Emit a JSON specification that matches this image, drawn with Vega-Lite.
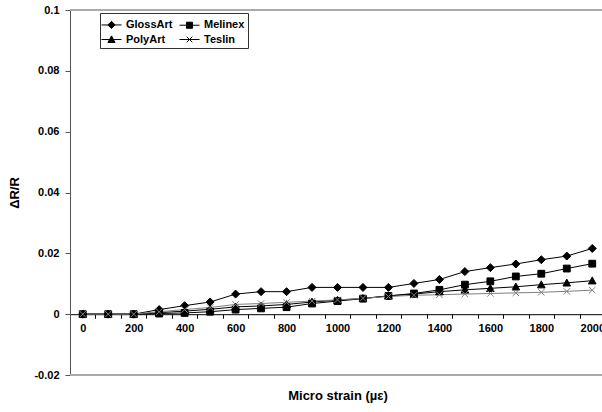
{
  "$schema": "https://vega.github.io/schema/vega-lite/v6.json",
  "width": 535,
  "height": 365,
  "autosize": {"type": "none"},
  "padding": {"left": 70, "top": 10, "right": 0, "bottom": 37},
  "config": {
    "view": {"stroke": null},
    "font": "Liberation Sans",
    "locale": {"number": {"decimal": ".", "thousands": ",", "grouping": [3], "currency": ["$", ""], "minus": "-"}},
    "axis": {
      "labelFont": "Liberation Sans", "labelFontWeight": "bold", "labelFontSize": 11, "labelColor": "#000",
      "titleFont": "Liberation Sans", "titleFontWeight": "bold", "titleFontSize": 13, "titleColor": "#000",
      "domainColor": "#555", "tickColor": "#555", "grid": false
    }
  },
  "data": {"values": [
    {"s": "GlossArt", "x": 0, "y": 0}, {"s": "GlossArt", "x": 100, "y": 0}, {"s": "GlossArt", "x": 200, "y": 0},
    {"s": "GlossArt", "x": 300, "y": 0.0015}, {"s": "GlossArt", "x": 400, "y": 0.0028}, {"s": "GlossArt", "x": 500, "y": 0.004},
    {"s": "GlossArt", "x": 600, "y": 0.0066}, {"s": "GlossArt", "x": 700, "y": 0.0074}, {"s": "GlossArt", "x": 800, "y": 0.0074},
    {"s": "GlossArt", "x": 900, "y": 0.0088}, {"s": "GlossArt", "x": 1000, "y": 0.0088}, {"s": "GlossArt", "x": 1100, "y": 0.0088},
    {"s": "GlossArt", "x": 1200, "y": 0.0088}, {"s": "GlossArt", "x": 1300, "y": 0.0101}, {"s": "GlossArt", "x": 1400, "y": 0.0114},
    {"s": "GlossArt", "x": 1500, "y": 0.014}, {"s": "GlossArt", "x": 1600, "y": 0.0153}, {"s": "GlossArt", "x": 1700, "y": 0.0165},
    {"s": "GlossArt", "x": 1800, "y": 0.0179}, {"s": "GlossArt", "x": 1900, "y": 0.0191}, {"s": "GlossArt", "x": 2000, "y": 0.0216},
    {"s": "Melinex", "x": 0, "y": 0}, {"s": "Melinex", "x": 100, "y": 0}, {"s": "Melinex", "x": 200, "y": 0},
    {"s": "Melinex", "x": 300, "y": 0.0002}, {"s": "Melinex", "x": 400, "y": 0.0004}, {"s": "Melinex", "x": 500, "y": 0.0008},
    {"s": "Melinex", "x": 600, "y": 0.0015}, {"s": "Melinex", "x": 700, "y": 0.0019}, {"s": "Melinex", "x": 800, "y": 0.0023},
    {"s": "Melinex", "x": 900, "y": 0.0035}, {"s": "Melinex", "x": 1000, "y": 0.0043}, {"s": "Melinex", "x": 1100, "y": 0.0051},
    {"s": "Melinex", "x": 1200, "y": 0.006}, {"s": "Melinex", "x": 1300, "y": 0.0068}, {"s": "Melinex", "x": 1400, "y": 0.008},
    {"s": "Melinex", "x": 1500, "y": 0.0097}, {"s": "Melinex", "x": 1600, "y": 0.0108}, {"s": "Melinex", "x": 1700, "y": 0.0124},
    {"s": "Melinex", "x": 1800, "y": 0.0133}, {"s": "Melinex", "x": 1900, "y": 0.015}, {"s": "Melinex", "x": 2000, "y": 0.0166},
    {"s": "PolyArt", "x": 0, "y": 0}, {"s": "PolyArt", "x": 100, "y": 0}, {"s": "PolyArt", "x": 200, "y": 0},
    {"s": "PolyArt", "x": 300, "y": 0.0005}, {"s": "PolyArt", "x": 400, "y": 0.001}, {"s": "PolyArt", "x": 500, "y": 0.0016},
    {"s": "PolyArt", "x": 600, "y": 0.0024}, {"s": "PolyArt", "x": 700, "y": 0.0027}, {"s": "PolyArt", "x": 800, "y": 0.0032},
    {"s": "PolyArt", "x": 900, "y": 0.004}, {"s": "PolyArt", "x": 1000, "y": 0.0046}, {"s": "PolyArt", "x": 1100, "y": 0.0052},
    {"s": "PolyArt", "x": 1200, "y": 0.006}, {"s": "PolyArt", "x": 1300, "y": 0.0066}, {"s": "PolyArt", "x": 1400, "y": 0.0074},
    {"s": "PolyArt", "x": 1500, "y": 0.008}, {"s": "PolyArt", "x": 1600, "y": 0.0085}, {"s": "PolyArt", "x": 1700, "y": 0.009},
    {"s": "PolyArt", "x": 1800, "y": 0.0097}, {"s": "PolyArt", "x": 1900, "y": 0.0103}, {"s": "PolyArt", "x": 2000, "y": 0.011},
    {"s": "Teslin", "x": 0, "y": 0}, {"s": "Teslin", "x": 100, "y": 0}, {"s": "Teslin", "x": 200, "y": 0},
    {"s": "Teslin", "x": 300, "y": 0.0008}, {"s": "Teslin", "x": 400, "y": 0.0015}, {"s": "Teslin", "x": 500, "y": 0.0022},
    {"s": "Teslin", "x": 600, "y": 0.0032}, {"s": "Teslin", "x": 700, "y": 0.0035}, {"s": "Teslin", "x": 800, "y": 0.0039},
    {"s": "Teslin", "x": 900, "y": 0.0043}, {"s": "Teslin", "x": 1000, "y": 0.0047}, {"s": "Teslin", "x": 1100, "y": 0.0052},
    {"s": "Teslin", "x": 1200, "y": 0.0058}, {"s": "Teslin", "x": 1300, "y": 0.0062}, {"s": "Teslin", "x": 1400, "y": 0.0064},
    {"s": "Teslin", "x": 1500, "y": 0.0066}, {"s": "Teslin", "x": 1600, "y": 0.0068}, {"s": "Teslin", "x": 1700, "y": 0.007},
    {"s": "Teslin", "x": 1800, "y": 0.0072}, {"s": "Teslin", "x": 1900, "y": 0.0075}, {"s": "Teslin", "x": 2000, "y": 0.0079}
  ]},
  "encoding": {
    "x": {
      "field": "x", "type": "quantitative",
      "scale": {"domain": [-50, 2050], "nice": false, "zero": false},
      "axis": {
        "values": [0, 100, 200, 300, 400, 500, 600, 700, 800, 900, 1000, 1100, 1200, 1300, 1400, 1500, 1600, 1700, 1800, 1900, 2000],
        "format": "d",
        "labelExpr": "datum.value % 200 == 0 ? datum.label : ''",
        "labelOverlap": false, "labelFlush": false,
        "tickOffset": 12.74, "labelOffset": -12.74,
        "offset": -60.8, "tickSize": 4, "labelPadding": 4,
        "domainColor": "#000", "tickColor": "#000",
        "title": "Micro strain (µε)", "titlePadding": 56
      }
    },
    "y": {
      "field": "y", "type": "quantitative",
      "scale": {"domain": [-0.02, 0.1], "nice": false, "zero": false},
      "axis": {
        "values": [-0.02, 0, 0.02, 0.04, 0.06, 0.08, 0.1],
        "format": "~g", "tickSize": 5, "labelPadding": 6,
        "title": "ΔR/R", "titlePadding": 12
      }
    }
  },
  "layer": [
    {
      "mark": {"type": "rule", "color": "#aaaaaa", "strokeWidth": 1},
      "encoding": {"x": null, "y": {"datum": 0.1, "type": "quantitative"}}
    },
    {
      "mark": {"type": "rule", "color": "#aaaaaa", "strokeWidth": 1},
      "encoding": {"x": null, "y": {"datum": -0.02, "type": "quantitative"}}
    },
    {
      "mark": {"type": "line", "strokeWidth": 1},
      "encoding": {
        "color": {"field": "s", "type": "nominal",
          "scale": {"domain": ["GlossArt", "Melinex", "PolyArt", "Teslin"], "range": ["#000000", "#000000", "#000000", "#808080"]},
          "legend": null}
      }
    },
    {
      "mark": {"type": "point", "filled": true, "size": 64, "strokeWidth": 1, "opacity": 1},
      "encoding": {
        "shape": {"field": "s", "type": "nominal",
          "scale": {"domain": ["GlossArt", "Melinex", "PolyArt", "Teslin"],
            "range": ["M0,-1L1,0L0,1L-1,0Z", "M-0.85,-0.85H0.85V0.85H-0.85Z", "M0,-0.95L0.95,0.8H-0.95Z", "M-0.8,-0.8L0.8,0.8M-0.8,0.8L0.8,-0.8"]},
          "legend": null},
        "fill": {"field": "s", "type": "nominal",
          "scale": {"domain": ["GlossArt", "Melinex", "PolyArt", "Teslin"], "range": ["#000000", "#000000", "#000000", "#808080"]},
          "legend": null},
        "stroke": {"field": "s", "type": "nominal",
          "scale": {"domain": ["GlossArt", "Melinex", "PolyArt", "Teslin"], "range": ["#000000", "#000000", "#000000", "#808080"]},
          "legend": null}
      }
    },
    {
      "mark": {"type": "point", "filled": true, "fill": "#000000", "stroke": "#000000", "strokeWidth": 1, "opacity": 0},
      "encoding": {
        "shape": {"field": "s", "type": "nominal",
          "scale": {"domain": ["GlossArt", "PolyArt", "Melinex", "Teslin"],
            "range": ["M-1.25,0H1.25M0,-0.45L0.45,0L0,0.45L-0.45,0Z", "M-1.25,0H1.25M0,-0.45L0.45,0.38H-0.45Z", "M-1.25,0H1.25M-0.38,-0.38H0.38V0.38H-0.38Z", "M-1.25,0H1.25M-0.35,-0.35L0.35,0.35M-0.35,0.35L0.35,-0.35"]},
          "legend": {
            "orient": "none", "legendX": 30, "legendY": 3, "columns": 2, "title": null,
            "strokeColor": "#333333", "padding": 3,
            "symbolSize": 256, "symbolStrokeWidth": 1, "symbolOpacity": 1,
            "labelFont": "Liberation Sans", "labelFontSize": 11, "labelFontWeight": "bold", "labelColor": "#000",
            "labelOffset": 6, "rowPadding": 0, "columnPadding": 4,
            "encode": {"symbols": {"update": {
              "opacity": {"value": 1},
              "fill": {"signal": "datum.value == 'Teslin' ? '#808080' : '#000000'"},
              "stroke": {"signal": "datum.value == 'Teslin' ? '#808080' : '#000000'"}
            }}}
          }}
      }
    }
  ],
  "resolve": {"scale": {"shape": "independent"}, "legend": {"shape": "independent"}}
}
